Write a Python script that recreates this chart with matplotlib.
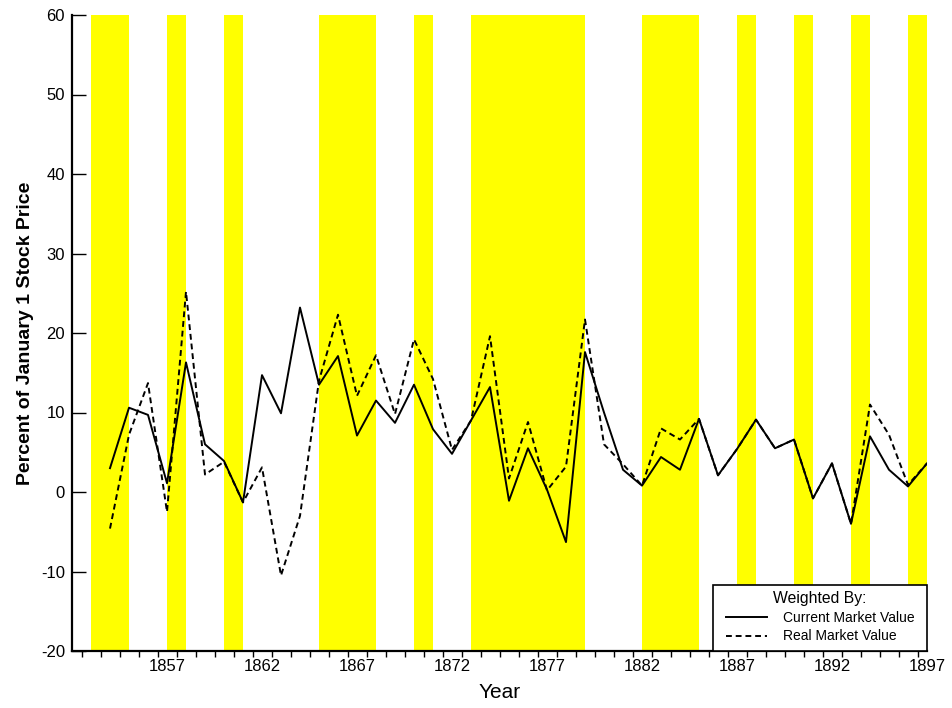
import matplotlib
matplotlib.use("Agg")
import matplotlib.pyplot as plt
from matplotlib.patches import Rectangle
import numpy as np

plt.rcParams["font.family"] = ["Liberation Sans", "DejaVu Sans"]
plt.rcParams["axes.unicode_minus"] = False

# data
years = list(range(1854, 1898))
current_value = [3.0, 10.6, 9.7, 1.1, 16.3, 6.0, 3.9, -1.3, 14.7, 9.9,
                 23.2, 13.5, 17.1, 7.1, 11.5, 8.7, 13.5, 7.9, 4.8, 9.0,
                 13.2, -1.1, 5.5, 0.3, -6.3, 17.6, 10.0, 2.8, 0.8, 4.4,
                 2.8, 9.2, 2.1, 5.4, 9.1, 5.5, 6.6, -0.8, 3.6, -4.0,
                 7.0, 2.8, 0.7, 3.6]
real_value = [-4.6, 7.2, 13.7, -2.5, 25.2, 2.2, 3.8, -1.3, 3.1, -10.5,
              -3.0, 14.0, 22.3, 12.1, 17.2, 9.8, 19.2, 14.2, 5.3, 9.0,
              19.6, 1.7, 8.8, 0.2, 3.2, 21.7, 6.0, 3.5, 0.8, 8.0,
              6.6, 9.2, 2.1, 5.4, 9.1, 5.5, 6.6, -0.8, 3.6, -4.0,
              11.0, 7.2, 0.9, 3.6]

# recession periods (shaded)
rec_start = [1853, 1857, 1860, 1865, 1870, 1873, 1882, 1887, 1890, 1893, 1896]
rec_end = [1855, 1858, 1861, 1868, 1871, 1879, 1885, 1888, 1891, 1894, 1897]

fig = plt.figure(figsize=(9.52, 7.08), dpi=100)
ax = fig.add_axes([72/952, 1 - 651/708, (927-72)/952, (651-15)/708])

for s, e in zip(rec_start, rec_end):
    ax.axvspan(s, e, color="#ffff00", lw=0, zorder=1)

ax.plot(years, current_value, color="black", lw=1.4, zorder=3,
        label="Current Market Value")
ax.plot(years, real_value, color="black", lw=1.4, dashes=(3, 2), zorder=3,
        label="Real Market Value")

ax.set_xlim(1852, 1897)
ax.set_ylim(-20, 60)

ax.spines["top"].set_visible(False)
ax.spines["right"].set_visible(False)
ax.spines["left"].set_linewidth(1.6)
ax.spines["bottom"].set_linewidth(1.6)

ax.set_yticks(range(-20, 61, 10))
ax.tick_params(axis="y", direction="in", length=10, width=1, labelsize=12, pad=5)

ax.set_xticks(range(1857, 1898, 5))
ax.set_xticks(np.arange(1852.5, 1897, 1), minor=True)
ax.tick_params(axis="x", which="major", length=0, labelsize=12, pad=6)
ax.tick_params(axis="x", which="minor", direction="out", length=4, width=1)

ax.set_xlabel("Year", fontsize=15, labelpad=6)
ax.set_ylabel("Percent of January 1 Stock Price", fontsize=14, fontweight="bold",
              labelpad=5)

# legend box in the lower right corner
box = Rectangle(((713-72)/855, 0), (927-713)/855, (651-585)/636,
                transform=ax.transAxes, facecolor="white", edgecolor="black",
                lw=1.2, zorder=4, clip_on=False)
ax.add_patch(box)
leg = ax.legend(title="Weighted By:", loc="center",
                bbox_to_anchor=((820-72)/855, (651-617)/636),
                fontsize=10, title_fontsize=11.3, frameon=False,
                handlelength=3.0, handletextpad=1.1, labelspacing=0.35,
                borderpad=0)
leg.set_zorder(5)

fig.savefig("out.png", dpi=100)
